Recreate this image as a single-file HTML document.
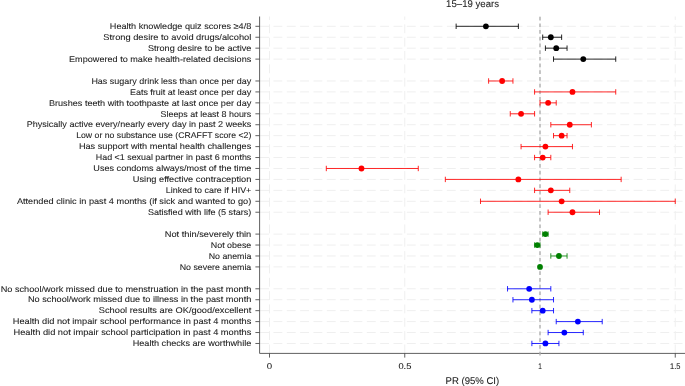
<!DOCTYPE html><html><head><meta charset="utf-8"><title>Forest plot</title>
<style>html,body{margin:0;padding:0;background:#fff}svg{display:block;will-change:transform}text{font-family:"Liberation Sans",sans-serif;fill:#1a1a1a;text-rendering:geometricPrecision;stroke:#1a1a1a;stroke-width:0.07px}</style></head><body>
<svg width="685" height="386" viewBox="0 0 685 386">
<rect width="685" height="386" fill="#fff"/>
<g stroke="#efefef" stroke-width="1" fill="none" stroke-dasharray="8.9 4.44">
<line x1="260.1" y1="26.30" x2="685" y2="26.30"/>
<line x1="260.1" y1="37.24" x2="685" y2="37.24"/>
<line x1="260.1" y1="48.17" x2="685" y2="48.17"/>
<line x1="260.1" y1="59.11" x2="685" y2="59.11"/>
<line x1="260.1" y1="80.98" x2="685" y2="80.98"/>
<line x1="260.1" y1="91.92" x2="685" y2="91.92"/>
<line x1="260.1" y1="102.86" x2="685" y2="102.86"/>
<line x1="260.1" y1="113.80" x2="685" y2="113.80"/>
<line x1="260.1" y1="124.73" x2="685" y2="124.73"/>
<line x1="260.1" y1="135.67" x2="685" y2="135.67"/>
<line x1="260.1" y1="146.61" x2="685" y2="146.61"/>
<line x1="260.1" y1="157.54" x2="685" y2="157.54"/>
<line x1="260.1" y1="168.48" x2="685" y2="168.48"/>
<line x1="260.1" y1="179.42" x2="685" y2="179.42"/>
<line x1="260.1" y1="190.35" x2="685" y2="190.35"/>
<line x1="260.1" y1="201.29" x2="685" y2="201.29"/>
<line x1="260.1" y1="212.23" x2="685" y2="212.23"/>
<line x1="260.1" y1="234.10" x2="685" y2="234.10"/>
<line x1="260.1" y1="245.04" x2="685" y2="245.04"/>
<line x1="260.1" y1="255.98" x2="685" y2="255.98"/>
<line x1="260.1" y1="266.91" x2="685" y2="266.91"/>
<line x1="260.1" y1="288.79" x2="685" y2="288.79"/>
<line x1="260.1" y1="299.73" x2="685" y2="299.73"/>
<line x1="260.1" y1="310.66" x2="685" y2="310.66"/>
<line x1="260.1" y1="321.60" x2="685" y2="321.60"/>
<line x1="260.1" y1="332.54" x2="685" y2="332.54"/>
<line x1="260.1" y1="343.47" x2="685" y2="343.47"/>
<line x1="269.50" y1="353.4" x2="269.50" y2="16.5"/>
<line x1="404.75" y1="353.4" x2="404.75" y2="16.5"/>
<line x1="540.00" y1="353.4" x2="540.00" y2="16.5"/>
<line x1="675.25" y1="353.4" x2="675.25" y2="16.5"/>
</g>
<g stroke="#444" stroke-width="0.85" fill="none">
<path d="M259.6 16.5V353.4H685"/>
<line x1="255.4" y1="26.30" x2="259.6" y2="26.30"/>
<line x1="255.4" y1="37.24" x2="259.6" y2="37.24"/>
<line x1="255.4" y1="48.17" x2="259.6" y2="48.17"/>
<line x1="255.4" y1="59.11" x2="259.6" y2="59.11"/>
<line x1="255.4" y1="80.98" x2="259.6" y2="80.98"/>
<line x1="255.4" y1="91.92" x2="259.6" y2="91.92"/>
<line x1="255.4" y1="102.86" x2="259.6" y2="102.86"/>
<line x1="255.4" y1="113.80" x2="259.6" y2="113.80"/>
<line x1="255.4" y1="124.73" x2="259.6" y2="124.73"/>
<line x1="255.4" y1="135.67" x2="259.6" y2="135.67"/>
<line x1="255.4" y1="146.61" x2="259.6" y2="146.61"/>
<line x1="255.4" y1="157.54" x2="259.6" y2="157.54"/>
<line x1="255.4" y1="168.48" x2="259.6" y2="168.48"/>
<line x1="255.4" y1="179.42" x2="259.6" y2="179.42"/>
<line x1="255.4" y1="190.35" x2="259.6" y2="190.35"/>
<line x1="255.4" y1="201.29" x2="259.6" y2="201.29"/>
<line x1="255.4" y1="212.23" x2="259.6" y2="212.23"/>
<line x1="255.4" y1="234.10" x2="259.6" y2="234.10"/>
<line x1="255.4" y1="245.04" x2="259.6" y2="245.04"/>
<line x1="255.4" y1="255.98" x2="259.6" y2="255.98"/>
<line x1="255.4" y1="266.91" x2="259.6" y2="266.91"/>
<line x1="255.4" y1="288.79" x2="259.6" y2="288.79"/>
<line x1="255.4" y1="299.73" x2="259.6" y2="299.73"/>
<line x1="255.4" y1="310.66" x2="259.6" y2="310.66"/>
<line x1="255.4" y1="321.60" x2="259.6" y2="321.60"/>
<line x1="255.4" y1="332.54" x2="259.6" y2="332.54"/>
<line x1="255.4" y1="343.47" x2="259.6" y2="343.47"/>
<line x1="269.50" y1="353.4" x2="269.50" y2="357.6"/>
<line x1="404.75" y1="353.4" x2="404.75" y2="357.6"/>
<line x1="675.25" y1="353.4" x2="675.25" y2="357.6"/>
</g>
<line x1="540.00" y1="16.7" x2="540.00" y2="357.7" stroke="#adadad" stroke-width="1.35" stroke-dasharray="3.7 3"/>
<g stroke="#000" stroke-width="0.85" fill="#000">
<path d="M456.14 26.30H518.36M456.14 23.60v5.4M518.36 23.60v5.4" fill="none"/>
<circle cx="485.90" cy="26.30" r="2.9" stroke="none"/>
</g>
<g stroke="#000" stroke-width="0.85" fill="#000">
<path d="M542.70 37.24H561.64M542.70 34.54v5.4M561.64 34.54v5.4" fill="none"/>
<circle cx="550.82" cy="37.24" r="2.9" stroke="none"/>
</g>
<g stroke="#000" stroke-width="0.85" fill="#000">
<path d="M545.41 48.17H567.05M545.41 45.47v5.4M567.05 45.47v5.4" fill="none"/>
<circle cx="556.23" cy="48.17" r="2.9" stroke="none"/>
</g>
<g stroke="#000" stroke-width="0.85" fill="#000">
<path d="M553.53 59.11H615.74M553.53 56.41v5.4M615.74 56.41v5.4" fill="none"/>
<circle cx="583.28" cy="59.11" r="2.9" stroke="none"/>
</g>
<g stroke="#f00" stroke-width="0.85" fill="#f00">
<path d="M488.61 80.98H512.95M488.61 78.28v5.4M512.95 78.28v5.4" fill="none"/>
<circle cx="502.13" cy="80.98" r="2.9" stroke="none"/>
</g>
<g stroke="#f00" stroke-width="0.85" fill="#f00">
<path d="M534.59 91.92H615.74M534.59 89.22v5.4M615.74 89.22v5.4" fill="none"/>
<circle cx="572.46" cy="91.92" r="2.9" stroke="none"/>
</g>
<g stroke="#f00" stroke-width="0.85" fill="#f00">
<path d="M540.00 102.86H556.23M540.00 100.16v5.4M556.23 100.16v5.4" fill="none"/>
<circle cx="548.12" cy="102.86" r="2.9" stroke="none"/>
</g>
<g stroke="#f00" stroke-width="0.85" fill="#f00">
<path d="M510.25 113.80H534.59M510.25 111.10v5.4M534.59 111.10v5.4" fill="none"/>
<circle cx="521.07" cy="113.80" r="2.9" stroke="none"/>
</g>
<g stroke="#f00" stroke-width="0.85" fill="#f00">
<path d="M550.82 124.73H591.39M550.82 122.03v5.4M591.39 122.03v5.4" fill="none"/>
<circle cx="569.76" cy="124.73" r="2.9" stroke="none"/>
</g>
<g stroke="#f00" stroke-width="0.85" fill="#f00">
<path d="M553.53 135.67H567.05M553.53 132.97v5.4M567.05 132.97v5.4" fill="none"/>
<circle cx="561.64" cy="135.67" r="2.9" stroke="none"/>
</g>
<g stroke="#f00" stroke-width="0.85" fill="#f00">
<path d="M521.07 146.61H572.46M521.07 143.91v5.4M572.46 143.91v5.4" fill="none"/>
<circle cx="545.41" cy="146.61" r="2.9" stroke="none"/>
</g>
<g stroke="#f00" stroke-width="0.85" fill="#f00">
<path d="M534.59 157.54H550.82M534.59 154.84v5.4M550.82 154.84v5.4" fill="none"/>
<circle cx="542.70" cy="157.54" r="2.9" stroke="none"/>
</g>
<g stroke="#f00" stroke-width="0.85" fill="#f00">
<path d="M326.31 168.48H418.27M326.31 165.78v5.4M418.27 165.78v5.4" fill="none"/>
<circle cx="361.47" cy="168.48" r="2.9" stroke="none"/>
</g>
<g stroke="#f00" stroke-width="0.85" fill="#f00">
<path d="M445.33 179.42H621.15M445.33 176.72v5.4M621.15 176.72v5.4" fill="none"/>
<circle cx="518.36" cy="179.42" r="2.9" stroke="none"/>
</g>
<g stroke="#f00" stroke-width="0.85" fill="#f00">
<path d="M534.59 190.35H569.76M534.59 187.66v5.4M569.76 187.66v5.4" fill="none"/>
<circle cx="550.82" cy="190.35" r="2.9" stroke="none"/>
</g>
<g stroke="#f00" stroke-width="0.85" fill="#f00">
<path d="M480.49 201.29H675.25M480.49 198.59v5.4M675.25 198.59v5.4" fill="none"/>
<circle cx="561.64" cy="201.29" r="2.9" stroke="none"/>
</g>
<g stroke="#f00" stroke-width="0.85" fill="#f00">
<path d="M548.12 212.23H599.51M548.12 209.53v5.4M599.51 209.53v5.4" fill="none"/>
<circle cx="572.46" cy="212.23" r="2.9" stroke="none"/>
</g>
<g stroke="#008000" stroke-width="0.85" fill="#008000">
<path d="M542.70 234.10H548.12M542.70 231.40v5.4M548.12 231.40v5.4" fill="none"/>
<circle cx="545.41" cy="234.10" r="2.9" stroke="none"/>
</g>
<g stroke="#008000" stroke-width="0.85" fill="#008000">
<path d="M534.59 245.04H540.00M534.59 242.34v5.4M540.00 242.34v5.4" fill="none"/>
<circle cx="537.30" cy="245.04" r="2.9" stroke="none"/>
</g>
<g stroke="#008000" stroke-width="0.85" fill="#008000">
<path d="M550.82 255.98H567.05M550.82 253.28v5.4M567.05 253.28v5.4" fill="none"/>
<circle cx="558.93" cy="255.98" r="2.9" stroke="none"/>
</g>
<g stroke="#008000" stroke-width="0.85" fill="#008000">
<circle cx="540.00" cy="266.91" r="2.9" stroke="none"/>
</g>
<g stroke="#00f" stroke-width="0.85" fill="#00f">
<path d="M507.54 288.79H550.82M507.54 286.09v5.4M550.82 286.09v5.4" fill="none"/>
<circle cx="529.18" cy="288.79" r="2.9" stroke="none"/>
</g>
<g stroke="#00f" stroke-width="0.85" fill="#00f">
<path d="M512.95 299.73H553.53M512.95 297.03v5.4M553.53 297.03v5.4" fill="none"/>
<circle cx="531.88" cy="299.73" r="2.9" stroke="none"/>
</g>
<g stroke="#00f" stroke-width="0.85" fill="#00f">
<path d="M531.88 310.66H553.53M531.88 307.96v5.4M553.53 307.96v5.4" fill="none"/>
<circle cx="542.70" cy="310.66" r="2.9" stroke="none"/>
</g>
<g stroke="#00f" stroke-width="0.85" fill="#00f">
<path d="M556.23 321.60H602.21M556.23 318.90v5.4M602.21 318.90v5.4" fill="none"/>
<circle cx="577.87" cy="321.60" r="2.9" stroke="none"/>
</g>
<g stroke="#00f" stroke-width="0.85" fill="#00f">
<path d="M548.12 332.54H583.28M548.12 329.84v5.4M583.28 329.84v5.4" fill="none"/>
<circle cx="564.35" cy="332.54" r="2.9" stroke="none"/>
</g>
<g stroke="#00f" stroke-width="0.85" fill="#00f">
<path d="M531.88 343.47H558.93M531.88 340.77v5.4M558.93 340.77v5.4" fill="none"/>
<circle cx="545.41" cy="343.47" r="2.9" stroke="none"/>
</g>
<text x="109.8" y="29.05" font-size="8.3" textLength="141.5" lengthAdjust="spacingAndGlyphs">Health knowledge quiz scores ≥4/8</text>
<text x="103.3" y="39.99" font-size="8.3" textLength="148.0" lengthAdjust="spacingAndGlyphs">Strong desire to avoid drugs/alcohol</text>
<text x="147.9" y="50.92" font-size="8.3" textLength="103.4" lengthAdjust="spacingAndGlyphs">Strong desire to be active</text>
<text x="69.0" y="61.86" font-size="8.3" textLength="182.3" lengthAdjust="spacingAndGlyphs">Empowered to make health-related decisions</text>
<text x="91.4" y="83.73" font-size="8.3" textLength="159.9" lengthAdjust="spacingAndGlyphs">Has sugary drink less than once per day</text>
<text x="129.9" y="94.67" font-size="8.3" textLength="121.4" lengthAdjust="spacingAndGlyphs">Eats fruit at least once per day</text>
<text x="48.9" y="105.61" font-size="8.3" textLength="202.4" lengthAdjust="spacingAndGlyphs">Brushes teeth with toothpaste at last once per day</text>
<text x="160.5" y="116.55" font-size="8.3" textLength="90.8" lengthAdjust="spacingAndGlyphs">Sleeps at least 8 hours</text>
<text x="26.7" y="127.48" font-size="8.3" textLength="224.6" lengthAdjust="spacingAndGlyphs">Physically active every/nearly every day in past 2 weeks</text>
<text x="76.2" y="138.42" font-size="8.3" textLength="175.1" lengthAdjust="spacingAndGlyphs">Low or no substance use (CRAFFT score &lt;2)</text>
<text x="78.9" y="149.36" font-size="8.3" textLength="172.4" lengthAdjust="spacingAndGlyphs">Has support with mental health challenges</text>
<text x="95.8" y="160.29" font-size="8.3" textLength="155.5" lengthAdjust="spacingAndGlyphs">Had &lt;1 sexual partner in past 6 months</text>
<text x="93.3" y="171.23" font-size="8.3" textLength="158.0" lengthAdjust="spacingAndGlyphs">Uses condoms always/most of the time</text>
<text x="132.8" y="182.17" font-size="8.3" textLength="118.5" lengthAdjust="spacingAndGlyphs">Using effective contraception</text>
<text x="165.8" y="193.10" font-size="8.3" textLength="85.5" lengthAdjust="spacingAndGlyphs">Linked to care if HIV+</text>
<text x="16.9" y="204.04" font-size="8.3" textLength="234.4" lengthAdjust="spacingAndGlyphs">Attended clinic in past 4 months (if sick and wanted to go)</text>
<text x="147.9" y="214.98" font-size="8.3" textLength="103.4" lengthAdjust="spacingAndGlyphs">Satisfied with life (5 stars)</text>
<text x="164.7" y="236.85" font-size="8.3" textLength="86.6" lengthAdjust="spacingAndGlyphs">Not thin/severely thin</text>
<text x="210.8" y="247.79" font-size="8.3" textLength="40.5" lengthAdjust="spacingAndGlyphs">Not obese</text>
<text x="208.7" y="258.73" font-size="8.3" textLength="42.6" lengthAdjust="spacingAndGlyphs">No anemia</text>
<text x="179.7" y="269.66" font-size="8.3" textLength="71.6" lengthAdjust="spacingAndGlyphs">No severe anemia</text>
<text x="0.7" y="291.54" font-size="8.3" textLength="250.6" lengthAdjust="spacingAndGlyphs">No school/work missed due to menstruation in the past month</text>
<text x="28.0" y="302.48" font-size="8.3" textLength="223.3" lengthAdjust="spacingAndGlyphs">No school/work missed due to illness in the past month</text>
<text x="98.8" y="313.41" font-size="8.3" textLength="152.5" lengthAdjust="spacingAndGlyphs">School results are OK/good/excellent</text>
<text x="12.8" y="324.35" font-size="8.3" textLength="238.5" lengthAdjust="spacingAndGlyphs">Health did not impair school performance in past 4 months</text>
<text x="13.5" y="335.29" font-size="8.3" textLength="237.8" lengthAdjust="spacingAndGlyphs">Health did not impair school participation in past 4 months</text>
<text x="132.7" y="346.22" font-size="8.3" textLength="118.6" lengthAdjust="spacingAndGlyphs">Health checks are worthwhile</text>
<text x="266.80" y="369.1" font-size="8.4" textLength="5.4" lengthAdjust="spacingAndGlyphs">0</text>
<text x="398.40" y="369.1" font-size="8.4" textLength="13.0" lengthAdjust="spacingAndGlyphs">0.5</text>
<text x="538.20" y="369.1" font-size="8.4" textLength="3.6" lengthAdjust="spacingAndGlyphs">1</text>
<text x="670.10" y="369.1" font-size="8.4" textLength="10.4" lengthAdjust="spacingAndGlyphs">1.5</text>
<text x="445.6" y="384.3" font-size="9.8" textLength="53.6" lengthAdjust="spacingAndGlyphs">PR (95% CI)</text>
<text x="446.1" y="7.2" font-size="9.8" textLength="52.9" lengthAdjust="spacingAndGlyphs">15–19 years</text>
</svg></body></html>
